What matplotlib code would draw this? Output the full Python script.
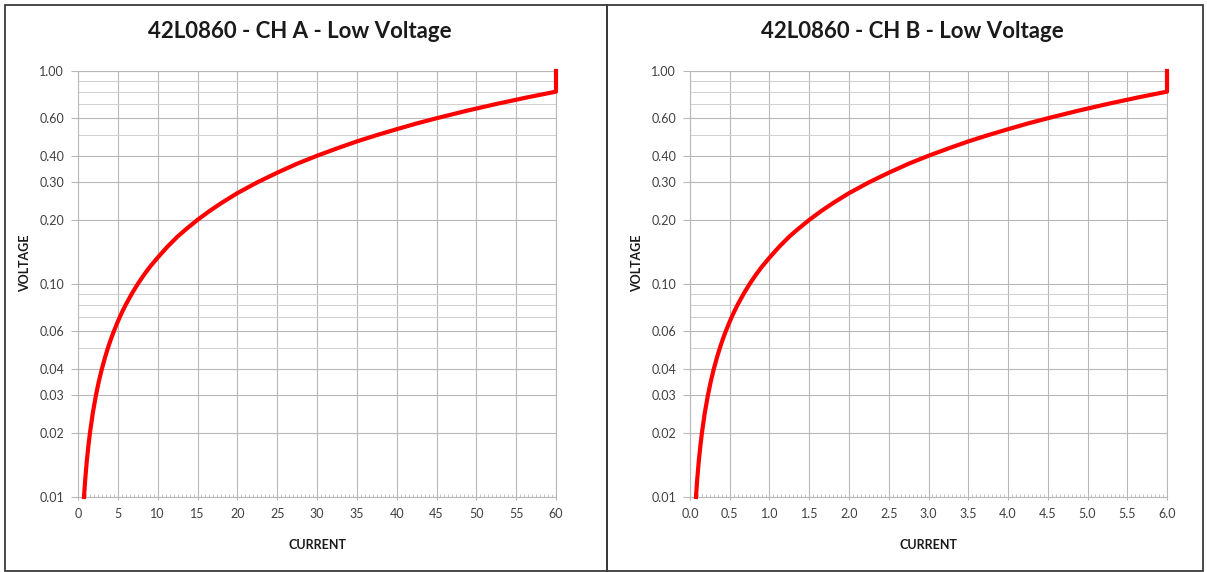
import numpy as np
import matplotlib.pyplot as plt
from matplotlib.patches import Rectangle
from matplotlib.ticker import FixedLocator, MultipleLocator, NullFormatter

plt.rcParams['font.family'] = ['Lato', 'DejaVu Sans']

# values
titles = ["42L0860 - CH A - Low Voltage", "42L0860 - CH B - Low Voltage"]
current_a = [0.75, 0.9, 1.1, 1.3, 1.5, 1.85, 2.25, 2.6, 3.0, 3.4, 3.75, 4.1, 4.5, 4.9, 5.25,
             5.6, 6.0, 6.75, 7.5, 8.25, 9.0, 10.0, 11.25, 12.5, 13.5, 15.0, 16.5, 18.0,
             20.0, 22.5, 25.0, 27.5, 30.0, 32.5, 35.0, 37.5, 40.0, 42.5, 45.0, 48.75,
             52.5, 56.25, 60.0, 60.0]
voltage_a = [0.010, 0.012, 0.0147, 0.0173, 0.020, 0.0247, 0.030, 0.0347, 0.040, 0.0453,
             0.050, 0.0547, 0.060, 0.0653, 0.070, 0.0747, 0.080, 0.090, 0.100, 0.110,
             0.120, 0.133, 0.150, 0.167, 0.180, 0.200, 0.220, 0.240, 0.267, 0.300, 0.333,
             0.367, 0.400, 0.433, 0.467, 0.500, 0.533, 0.567, 0.600, 0.650, 0.700, 0.750,
             0.800, 1.000]
current_b = [c / 10 for c in current_a]
voltage_b = voltage_a[:]

y_ticks = [0.01, 0.02, 0.03, 0.04, 0.06, 0.10, 0.20, 0.30, 0.40, 0.60, 1.00]
y_grid = [0.01 * k for k in range(1, 10)] + [0.1 * k for k in range(1, 11)]

fig = plt.figure(figsize=(12.07, 5.72), dpi=100)

W, H = 1207, 572
# panel frames
for x0, x1 in [(5, 607), (607, 1203)]:
    fig.patches.append(Rectangle((x0 / W, 1 - 571 / H), (x1 - x0) / W, (571 - 5) / H,
                                 transform=fig.transFigure, fill=False,
                                 edgecolor='#3a3a3a', linewidth=1.3))

panels = [
    (78, 556, current_a, voltage_a, 60, 5, 0.5, "{:.0f}", 300),
    (690, 1167, current_b, voltage_b, 6.0, 0.5, 0.05, "{:.1f}", 912),
]

grid_col = '#b8b8b8'
for i, (px0, px1, cur, volt, xmax, xmaj, xmin_step, fmt, tx) in enumerate(panels):
    ax = fig.add_axes([px0 / W, 1 - 497 / H, (px1 - px0) / W, (497 - 71) / H])
    ax.set_yscale('log')
    ax.set_ylim(0.01, 1.0)
    ax.set_xlim(0, xmax)

    ax.plot(cur, volt, color='#ff0000', linewidth=3.0, clip_on=False, zorder=5,
            solid_joinstyle='round')

    ax.yaxis.set_major_locator(FixedLocator(y_ticks))
    ax.set_yticklabels(["{:.2f}".format(v) for v in y_ticks])
    ax.yaxis.set_minor_locator(FixedLocator(y_grid))
    ax.yaxis.set_minor_formatter(NullFormatter())

    xt = np.arange(0, xmax + xmaj / 2, xmaj)
    ax.set_xticks(xt)
    ax.set_xticklabels([fmt.format(v) for v in xt])
    ax.xaxis.set_minor_locator(MultipleLocator(xmin_step))

    ax.grid(True, which='major', axis='both', color=grid_col, linewidth=0.8)
    ax.grid(True, which='minor', axis='y', color='#cfcfcf', linewidth=0.7)

    ax.tick_params(axis='y', which='major', length=5, color=grid_col, labelsize=9,
                   labelcolor='#404040', pad=5)
    ax.tick_params(axis='y', which='minor', length=0)
    ax.tick_params(axis='x', which='major', length=2, color=grid_col, labelsize=9,
                   labelcolor='#404040', pad=6)
    ax.tick_params(axis='x', which='minor', length=2, direction='in', color='#bdbdbd')
    for s in ax.spines.values():
        s.set_color(grid_col)
        s.set_linewidth(0.8)

    fig.text(tx / W, 1 - 32 / H, titles[i], ha='center', va='center',
             fontsize=16, fontweight='bold', color='#1a1a1a')
    fig.text((px0 - 53) / W, 1 - 263 / H, "VOLTAGE", rotation=90, ha='center',
             va='center', fontsize=9, fontweight='bold', color='#1a1a1a')
    fig.text(((px0 + px1) / 2) / W, 1 - 545 / H, "CURRENT", ha='center', va='center',
             fontsize=9, fontweight='bold', color='#1a1a1a')

fig.savefig('out.png', dpi=100)
